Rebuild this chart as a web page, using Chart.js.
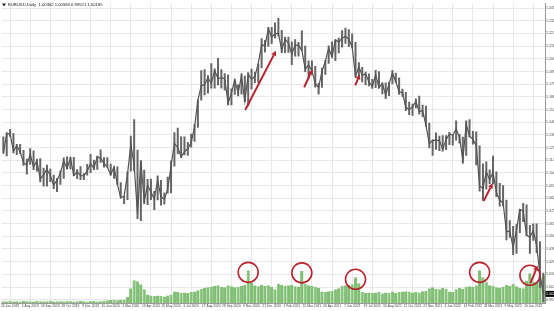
<!DOCTYPE html>
<html>
<head>
<meta charset="utf-8">
<script src="https://cdn.jsdelivr.net/npm/chart.js@4/dist/chart.umd.min.js"></script>
<style>
  html, body { margin: 0; padding: 0; background: #fff; }
</style>
</head>
<body>
<canvas id="chart" width="554" height="311"></canvas>
<script>
// EURUSD weekly bars, week of 10 Jun 2019 to week of 11 Jul 2022
const firstWeek = '2019-06-10';

const highs = [
  1.1348,1.1385,1.1412,1.1375,1.1286,1.1286,1.1234,1.1160,1.1250,1.1230,
  1.1160,1.1164,1.1085,1.1109,1.1076,1.1025,1.0999,1.1062,1.1172,1.1179,
  1.1175,1.1176,1.1071,1.1097,1.1039,1.1117,1.1200,1.1153,1.1187,1.1239,
  1.1174,1.1173,1.1118,1.1095,1.1096,1.0962,1.0851,1.1053,1.1355,1.1495,
  1.1236,1.1147,1.1067,1.0990,1.0991,1.0888,1.1019,1.0982,1.0876,1.1009,
  1.1146,1.1384,1.1422,1.1348,1.1349,1.1303,1.1372,1.1452,1.1661,1.1908,
  1.1916,1.1865,1.1966,1.1922,1.2011,1.1917,1.1882,1.1872,1.1753,1.1831,
  1.1787,1.1881,1.1861,1.1891,1.1920,1.1894,1.1964,1.2177,1.2163,1.2273,
  1.2272,1.2310,
  1.2349,1.2247,1.2190,1.2190,1.2150,1.2169,1.2146,1.2243,1.2114,1.1990,
  1.1990,1.1943,1.1800,1.1928,1.1994,1.2117,1.2150,1.2168,1.2182,1.2245,
  1.2266,1.2254,1.2218,1.2146,1.1975,1.1936,1.1895,1.1880,1.1834,1.1909,
  1.1900,1.1804,1.1804,1.1808,1.1909,1.1886,1.1846,1.1751,1.1725,1.1641,
  1.1624,1.1669,1.1692,1.1616,1.1609,1.1464,1.1322,1.1383,1.1355,1.1360,
  1.1360,1.1386,
  1.1364,1.1483,1.1369,1.1347,1.1483,1.1495,1.1395,1.1390,1.1273,1.1121,
  1.1137,1.1070,1.1185,1.1054,1.0956,1.0936,1.0814,1.0642,1.0594,1.0608,
  1.0736,1.0787,1.0774,1.0601,1.0614,1.0615,1.0464,1.0199
];

const lows = [
  1.1202,1.1181,1.1347,1.1207,1.1193,1.1200,1.1101,1.1027,1.1110,1.1066,
  1.1052,1.0963,1.0926,1.0927,1.0965,1.0905,1.0879,1.0942,1.0992,1.1072,
  1.1073,1.1015,1.0989,1.0981,1.0981,1.1019,1.1040,1.1066,1.1067,1.1127,
  1.1086,1.1087,1.1019,1.0992,1.0941,1.0827,1.0778,1.0812,1.1053,1.1055,
  1.0653,1.0636,1.0781,1.0771,1.0812,1.0727,1.0811,1.0766,1.0775,1.0868,
  1.0870,1.1095,1.1198,1.1168,1.1190,1.1185,1.1255,1.1304,1.1422,1.1652,
  1.1697,1.1711,1.1753,1.1754,1.1782,1.1753,1.1737,1.1612,1.1612,1.1700,
  1.1689,1.1703,1.1640,1.1603,1.1746,1.1800,1.1802,1.1925,1.2058,1.2106,
  1.2129,1.2177,
  1.2193,1.2054,1.2053,1.2055,1.1952,1.2023,1.2023,1.2070,1.1893,1.1836,
  1.1874,1.1762,1.1704,1.1760,1.1870,1.1962,1.2015,1.1986,1.2052,1.2100,
  1.2132,1.2104,1.2093,1.1847,1.1847,1.1807,1.1781,1.1772,1.1752,1.1757,
  1.1754,1.1705,1.1664,1.1690,1.1790,1.1802,1.1700,1.1683,1.1563,1.1529,
  1.1523,1.1586,1.1535,1.1513,1.1432,1.1250,1.1186,1.1236,1.1227,1.1222,
  1.1234,1.1276,
  1.1272,1.1315,1.1290,1.1121,1.1185,1.1340,1.1280,1.1106,1.0885,1.0806,
  1.0902,1.0945,1.0945,1.0837,1.0757,1.0760,1.0472,1.0494,1.0349,1.0359,
  1.0533,1.0627,1.0507,1.0359,1.0469,1.0366,1.0072,0.9952
];

const closes = [
  1.1208,1.1370,1.1372,1.1225,1.1271,1.1220,1.1127,1.1107,1.1200,1.1091,
  1.1143,1.0989,1.1027,1.1073,1.1017,1.0940,1.0978,1.1040,1.1143,1.1080,
  1.1165,1.1019,1.1051,1.1019,1.1017,1.1058,1.1120,1.1081,1.1176,1.1166,
  1.1121,1.1090,1.1025,1.1093,1.0944,1.0830,1.0847,1.1026,1.1284,1.1105,
  1.0693,1.1142,1.0802,1.0937,1.0878,1.0820,1.0979,1.0839,1.0819,1.0902,
  1.1100,1.1290,1.1256,1.1178,1.1218,1.1247,1.1298,1.1428,1.1656,1.1778,
  1.1786,1.1844,1.1796,1.1904,1.1838,1.1845,1.1837,1.1632,1.1715,1.1826,
  1.1717,1.1859,1.1646,1.1873,1.1833,1.1856,1.1963,1.2122,1.2115,1.2258,
  1.2188,1.2216,
  1.2219,1.2077,1.2170,1.2136,1.2045,1.2119,1.2119,1.2076,1.1917,1.1951,
  1.1904,1.1795,1.1762,1.1899,1.1983,1.2096,1.2020,1.2165,1.2145,1.2178,
  1.2194,1.2168,1.2104,1.1858,1.1937,1.1864,1.1876,1.1810,1.1771,1.1870,
  1.1761,1.1795,1.1697,1.1795,1.1882,1.1813,1.1726,1.1719,1.1597,1.1574,
  1.1601,1.1644,1.1559,1.1567,1.1445,1.1288,1.1318,1.1316,1.1316,1.1240,
  1.1322,1.1370,
  1.1360,1.1410,1.1343,1.1150,1.1453,1.1351,1.1324,1.1270,1.0929,1.0912,
  1.1051,1.0984,1.1047,1.0878,1.0810,1.0790,1.0545,1.0550,1.0410,1.0563,
  1.0733,1.0719,1.0518,1.0497,1.0555,1.0428,1.0185,1.0020
];

// tick volume (thousands)
const volumes = [
  7,6,8,6,7,6,8,7,7,6,8,7,6,7,8,6,7,7,6,8,7,6,7,8,7,6,7,8,6,7,
  10,11,12,12,11,12,14,24,
  60,92,88,76,56,
  34,30,28,30,28,26,30,34,
  46,44,40,42,40,44,46,52,58,
  62,64,66,70,72,66,64,72,68,64,66,70,74,
  132,
  84,72,68,74,70,72,66,56,78,74,70,72,74,68,66,
  130,
  78,72,70,66,62,
  46,44,48,50,56,60,
  70,72,74,76,104,80,
  44,40,42,40,42,44,38,42,40,46,40,44,46,48,46,42,44,42,48,50,
  60,64,58,56,62,58,46,44,56,62,58,66,68,66,72,
  132,
  104,84,72,70,
  64,62,66,74,70,78,68,62,60,
  90,120,86,84,100,112
];

const headerText = 'EURUSD,Daily  1.00362 1.00583 0.99521 1.00185';

// price ticks on the right axis
const priceTickTop = 1.2432;
const priceTickStep = 0.0107;

// highlighted volume spikes (week index)
const circleWeeks = [73, 89, 105, 142, 157];

// red arrows (week index, price)
const arrowFromWeek = [72.1, 89.7, 104.9, 143.2, 157.2];
const arrowFromPrice = [1.1572, 1.1764, 1.1780, 1.0803, 1.0110];
const arrowToWeek = [81.3, 92.1, 106.3, 145.9, 159.3];
const arrowToPrice = [1.2073, 1.1914, 1.1872, 1.0953, 1.0260];

const months = ['Jan','Feb','Mar','Apr','May','Jun','Jul','Aug','Sep','Oct','Nov','Dec'];
const weeks = [];
const start = new Date(firstWeek + 'T00:00:00Z');
for (let i = 0; i < closes.length; i++) {
  const d = new Date(start.getTime() + i * 7 * 86400000);
  weeks.push(d.getUTCDate() + ' ' + months[d.getUTCMonth()] + ' ' + d.getUTCFullYear());
}

const RED = '#b8232d';
const FONT = '"Liberation Sans", Arial, sans-serif';

const overlay = {
  id: 'overlay',
  afterDatasetsDraw(chart) {
    const ctx = chart.ctx;
    const x = chart.scales.x, y = chart.scales.y, yv = chart.scales.yv;
    ctx.save();

    // circles round the volume spikes
    ctx.strokeStyle = RED;
    ctx.lineWidth = 1.6;
    circleWeeks.forEach(w => {
      const cx = x.getPixelForValue(w);
      const cy = yv.getPixelForValue(volumes[w]) + 2;
      ctx.beginPath();
      ctx.arc(cx, cy, 10, 0, Math.PI * 2);
      ctx.stroke();
    });

    // arrows
    ctx.fillStyle = RED;
    ctx.lineWidth = 2;
    arrowFromWeek.forEach((w, i) => {
      const x0 = x.getPixelForValue(w), y0 = y.getPixelForValue(arrowFromPrice[i]);
      const x1 = x.getPixelForValue(arrowToWeek[i]), y1 = y.getPixelForValue(arrowToPrice[i]);
      const a = Math.atan2(y1 - y0, x1 - x0);
      const hl = 5, hw = 2.6;
      const bx = x1 - hl * Math.cos(a), by = y1 - hl * Math.sin(a);
      ctx.beginPath();
      ctx.moveTo(x0, y0);
      ctx.lineTo(bx, by);
      ctx.stroke();
      ctx.beginPath();
      ctx.moveTo(x1, y1);
      ctx.lineTo(bx + hw * Math.sin(a), by - hw * Math.cos(a));
      ctx.lineTo(bx - hw * Math.sin(a), by + hw * Math.cos(a));
      ctx.closePath();
      ctx.fill();
    });

    // header
    ctx.fillStyle = '#222';
    ctx.beginPath();
    ctx.moveTo(2, 3.5); ctx.lineTo(6, 3.5); ctx.lineTo(4, 6.5); ctx.closePath();
    ctx.fill();
    ctx.font = '4.2px ' + FONT;
    ctx.textBaseline = 'middle';
    ctx.textAlign = 'left';
    ctx.fillText(headerText, 8, 5);

    // last price box on the right axis
    const last = closes[closes.length - 1];
    const py = y.getPixelForValue(last);
    ctx.fillStyle = '#000';
    ctx.fillRect(chart.chartArea.right + 0.5, py - 3, 10, 6);
    ctx.fillStyle = '#fff';
    ctx.font = '3.6px ' + FONT;
    ctx.fillText(last.toFixed(4), chart.chartArea.right + 1, py);
    ctx.restore();
  }
};

new Chart(document.getElementById('chart').getContext('2d'), {
  data: {
    labels: weeks,
    datasets: [
      {
        type: 'line',
        data: closes,
        yAxisID: 'y',
        borderColor: '#555555',
        borderWidth: 1.2,
        pointRadius: 0,
        order: 1
      },
      {
        type: 'bar',
        data: lows.map((l, i) => [l, highs[i]]),
        yAxisID: 'y',
        backgroundColor: '#666666',
        grouped: false,
        barPercentage: 0.6,
        categoryPercentage: 1,
        order: 2
      },
      {
        type: 'bar',
        data: volumes,
        yAxisID: 'yv',
        backgroundColor: '#80c073',
        borderColor: '#4f9c44',
        borderWidth: { left: 0.7, right: 0, top: 0, bottom: 0 },
        grouped: false,
        barPercentage: 0.95,
        categoryPercentage: 1,
        order: 3
      }
    ]
  },
  options: {
    responsive: false,
    animation: false,
    layout: { padding: 0 },
    plugins: { legend: { display: false }, tooltip: { enabled: false } },
    scales: {
      x: {
        offset: true,
        afterBuildTicks: s => { s.ticks = s.ticks.filter(t => t.value % 6 === 2); },
        afterFit: s => { s.height = 8; },
        ticks: {
          autoSkip: false, maxRotation: 0, padding: 1, color: '#444',
          font: { size: 3.3, family: FONT }
        },
        grid: { offset: false, color: '#e8e8e8', lineWidth: 1, drawTicks: false },
        border: { color: '#9a9a9a' }
      },
      y: {
        position: 'right',
        min: 0.9943,
        max: 1.2474,
        afterBuildTicks: s => {
          const t = [];
          for (let v = priceTickTop; v > s.min; v -= priceTickStep) t.push({ value: v });
          s.ticks = t;
        },
        afterFit: s => { s.width = 9; },
        ticks: {
          autoSkip: false, padding: 1, color: '#444',
          font: { size: 3.6, family: FONT },
          callback: v => v.toFixed(4)
        },
        grid: { color: '#e8e8e8', lineWidth: 1, drawTicks: false },
        border: { color: '#9a9a9a' }
      },
      yv: {
        display: false,
        min: 0,
        max: 1212
      }
    }
  },
  plugins: [overlay]
});
</script>
</body>
</html>
